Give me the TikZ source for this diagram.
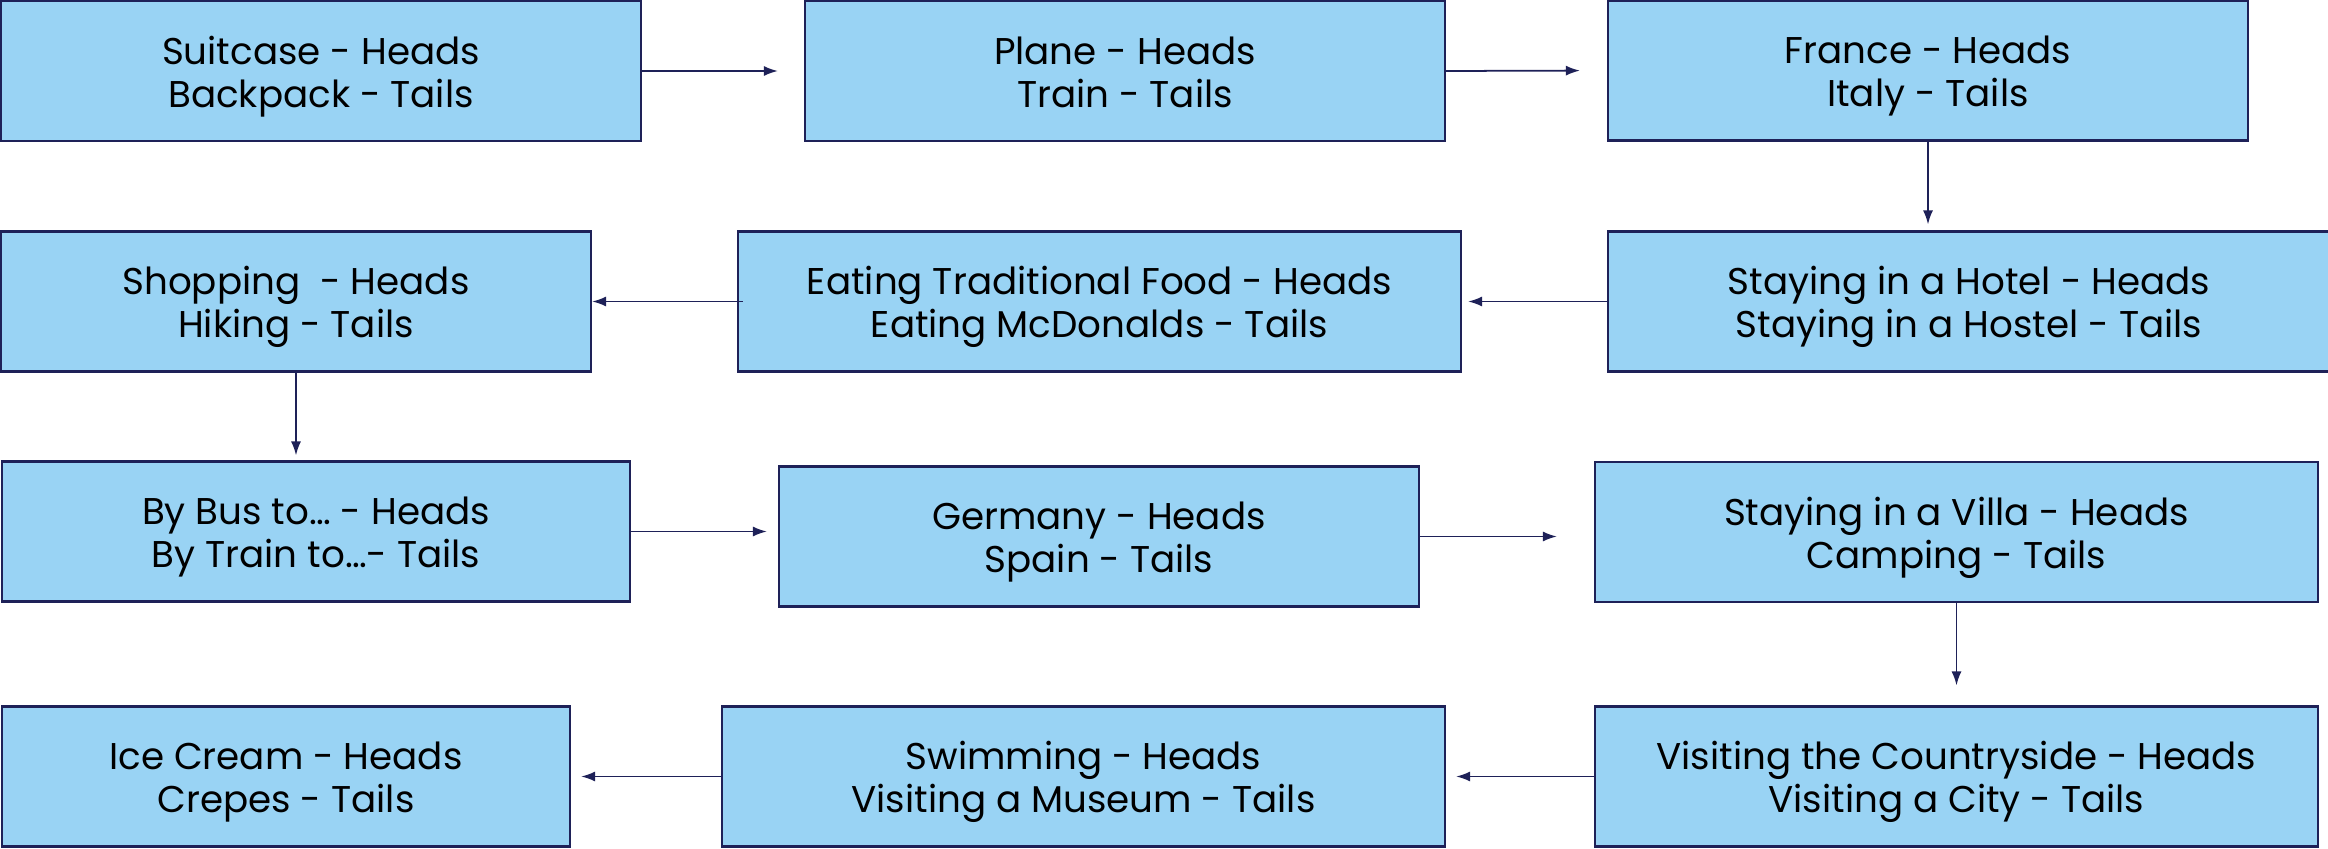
\documentclass[tikz,border=0pt]{standalone}
\usepackage{fontspec}
\setmainfont{Poppins}
\usetikzlibrary{arrows.meta}
\definecolor{boxfill}{RGB}{153,211,244}
\definecolor{navy}{RGB}{30,33,88}
\tikzset{
    coin/.style={draw=navy, line width=0.6pt, fill=boxfill, align=center,
        inner sep=0pt, minimum height=1.4cm, text height=20.6pt, text depth=0pt,
        font=\fontsize{10.6}{12.2}\selectfont},
    arr/.style={draw=navy, line width=0.5pt, arrows=-{Latex[length=1.4mm,width=1mm]}}
}
\begin{document}
\begin{tikzpicture}
    \useasboundingbox (0, 0) rectangle (23.28, -8.49);
    % first row
    \node[coin, minimum width=6.4cm] (suitcase) at (3.21, -0.71) {Suitcase - Heads\\Backpack - Tails};
    \node[coin, minimum width=6.4cm] (plane) at (11.25, -0.71) {Plane - Heads\\Train - Tails};
    \node[coin, minimum width=6.4cm] (france) at (19.28, -0.705) {France - Heads\\Italy - Tails};
    % second row
    \node[coin, minimum width=5.9cm] (shopping) at (2.96, -3.015) {Shopping~ - Heads\\Hiking - Tails};
    \node[coin, minimum width=7.23cm] (eating) at (10.995, -3.015) {Eating Traditional Food - Heads\\Eating McDonalds - Tails};
    \node[coin, minimum width=7.22cm] (hotel) at (19.69, -3.015) {Staying in a Hotel - Heads\\Staying in a Hostel - Tails};
    % third row
    \node[coin, minimum width=6.28cm] (bus) at (3.16, -5.315) {By Bus to\dots{} - Heads\\By Train to\dots- Tails};
    \node[coin, minimum width=6.4cm] (germany) at (10.99, -5.365) {Germany - Heads\\Spain - Tails};
    \node[coin, minimum width=7.23cm] (villa) at (19.565, -5.32) {Staying in a Villa - Heads\\Camping - Tails};
    % fourth row
    \node[coin, minimum width=5.68cm] (icecream) at (2.86, -7.765) {Ice Cream - Heads\\Crepes - Tails};
    \node[coin, minimum width=7.23cm] (swimming) at (10.835, -7.765) {Swimming - Heads\\Visiting a Museum - Tails};
    \node[coin, minimum width=7.23cm] (country) at (19.565, -7.765) {Visiting the Countryside - Heads\\Visiting a City - Tails};
    % arrows
    \draw[arr, shorten >=2.6mm] (suitcase.east) -- (plane.west);
    \draw[arr, shorten >=2.7mm] (plane.east) -- (france.west);
    \draw[arr, shorten >=0.6mm] (france.south) -- (france.south |- hotel.north);
    \draw[arr, shorten >=0.6mm] (hotel.west) -- (eating.east);
    \draw[arr, shorten <=-0.6mm] (eating.west) -- (shopping.east);
    \draw[arr, shorten >=0.5mm] (shopping.south) -- (shopping.south |- bus.north);
    \draw[arr, shorten >=1.1mm] (bus.east) -- (bus.east -| germany.west);
    \draw[arr, shorten >=3.7mm] (germany.east) -- (germany.east -| villa.west);
    \draw[arr, shorten >=2mm] (villa.south) -- (country.north);
    \draw[arr, shorten >=1mm] (country.west) -- (swimming.east);
    \draw[arr, shorten >=1mm] (swimming.west) -- (icecream.east);
\end{tikzpicture}
\end{document}
